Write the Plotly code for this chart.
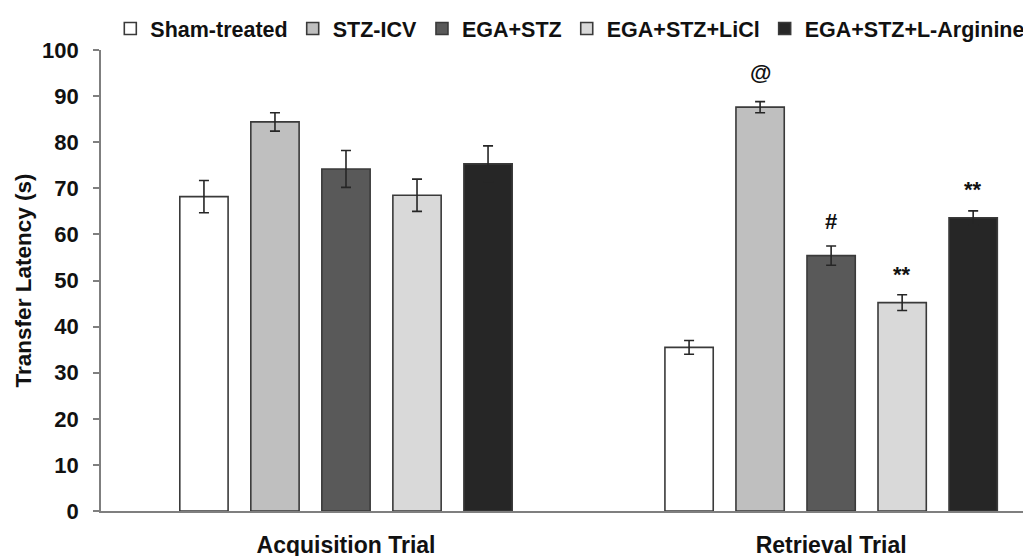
import plotly.graph_objects as go

categories = ["Acquisition Trial", "Retrieval Trial"]
groups = ["Sham-treated", "STZ-ICV", "EGA+STZ", "EGA+STZ+LiCl", "EGA+STZ+L-Arginine"]
means = {
    "Sham-treated": [68.2, 35.5],
    "STZ-ICV": [84.4, 87.6],
    "EGA+STZ": [74.2, 55.4],
    "EGA+STZ+LiCl": [68.5, 45.2],
    "EGA+STZ+L-Arginine": [75.3, 63.6],
}
errors = {
    "Sham-treated": [3.5, 1.5],
    "STZ-ICV": [2.0, 1.2],
    "EGA+STZ": [4.0, 2.1],
    "EGA+STZ+LiCl": [3.5, 1.7],
    "EGA+STZ+L-Arginine": [3.9, 1.5],
}
colors = ["#FFFFFF", "#BFBFBF", "#595959", "#D9D9D9", "#262626"]
# significance marks: (category index, group index, label, y position)
sig_marks = [
    (1, 1, "@", 95.1),
    (1, 2, "#", 62.7),
    (1, 3, "**", 51.4),
    (1, 4, "**", 69.8),
]
yticks = [0, 10, 20, 30, 40, 50, 60, 70, 80, 90, 100]

FONT = "Liberation Sans, Arial, sans-serif"
BARGAP = 0.268
BARGROUPGAP = 0.32

fig = go.Figure()
for g, c in zip(groups, colors):
    fig.add_trace(go.Bar(
        name=g,
        x=categories,
        y=means[g],
        marker=dict(color=c, line=dict(color="#3A3A3A", width=1.6)),
        error_y=dict(type="data", array=errors[g], visible=True,
                     color="#262626", thickness=1.6, width=5),
    ))

slot = (1 - BARGAP) / len(groups)
for ci, gi, label, yv in sig_marks:
    fig.add_annotation(
        x=ci + (gi - (len(groups) - 1) / 2) * slot,
        y=yv, xref="x", yref="y", text=label, showarrow=False,
        font=dict(family=FONT, size=22, color="#111111", weight="bold"),
    )

fig.update_layout(
    width=1023, height=548,
    margin=dict(l=93, r=0, t=42, b=45),
    paper_bgcolor="white", plot_bgcolor="white",
    barmode="group", bargap=BARGAP, bargroupgap=BARGROUPGAP,
    showlegend=True,
    legend=dict(
        orientation="h", xref="container", yref="container",
        x=0.1, y=1.0, xanchor="left", yanchor="top",
        font=dict(family=FONT, size=21.5, color="#111111", weight="bold"),
        itemwidth=30, tracegroupgap=0, bgcolor="rgba(0,0,0,0)",
    ),
    font=dict(family=FONT, color="#111111"),
)
fig.update_xaxes(
    type="category", range=[-0.505, 1.412],
    showline=True, linecolor="#7F7F7F", linewidth=1.6,
    ticks="", showgrid=False, zeroline=False,
    tickfont=dict(family=FONT, size=23, color="#111111", weight="bold"),
    ticklabelstandoff=13, automargin=False,
)
fig.update_yaxes(
    range=[0, 100], tickvals=yticks, ticktext=[str(v) for v in yticks],
    showline=True, linecolor="#7F7F7F", linewidth=1.6,
    ticks="outside", ticklen=6, tickcolor="#7F7F7F", tickwidth=1.6,
    showgrid=False, zeroline=False,
    tickfont=dict(family=FONT, size=22, color="#111111", weight="bold"),
    ticklabelstandoff=10,
    title=dict(text="Transfer Latency (s)", standoff=4,
               font=dict(family=FONT, size=22.5, color="#111111", weight="bold")),
    automargin=False,
)

fig.write_html("out.html")
